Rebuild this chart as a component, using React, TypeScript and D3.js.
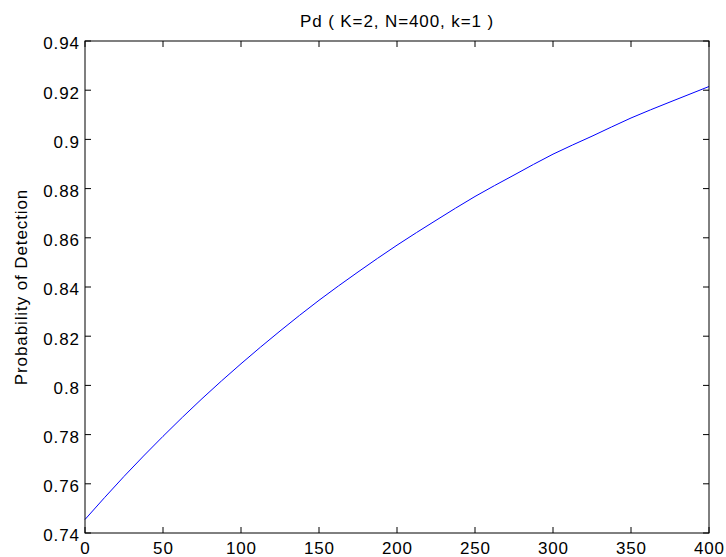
import React from "react";
import * as d3 from "d3";

const xValues = [0, 25, 50, 75, 100, 125, 150, 175, 200, 225, 250, 275, 300, 325, 350, 375, 400];
const pdValues = [0.7455, 0.763, 0.7793, 0.7946, 0.8088, 0.8221, 0.8346, 0.8461, 0.857, 0.8671, 0.8768, 0.8855, 0.894, 0.9013, 0.9087, 0.9152, 0.9215];
const xTicks = [0, 50, 100, 150, 200, 250, 300, 350, 400];
const yTicks = [0.74, 0.76, 0.78, 0.8, 0.82, 0.84, 0.86, 0.88, 0.9, 0.92, 0.94];
const titleText = "Pd ( K=2, N=400, k=1 )";
const yLabelText = "Probability of Detection";

const W = 726;
const H = 557;
const left = 85;
const right = 709;
const top = 41;
const bottom = 533;
const tickLen = 6;
const font = "'Liberation Sans', Arial, Helvetica, sans-serif";
const fs = 17;
const ls = 0.9;

export default function App() {
  const x = d3.scaleLinear().domain([0, 400]).range([left, right]);
  const y = d3.scaleLinear().domain([0.74, 0.94]).range([bottom, top]);
  const pts: [number, number][] = xValues.map((v, i) => [v, pdValues[i]]);
  const line = d3
    .line<[number, number]>()
    .x((d) => x(d[0]))
    .y((d) => y(d[1]))
    .curve(d3.curveMonotoneX);

  const yFmt = (v: number) => String(+v.toFixed(2));

  return (
    <svg
      width={W}
      height={H}
      style={{ position: "absolute", left: 0, top: 0, background: "#fff" }}
      fontFamily={font}
    >
      <rect x={0} y={0} width={W} height={H} fill="#fff" />
      <path d={line(pts) || ""} fill="none" stroke="#0000ff" strokeWidth={1} />
      {xTicks.map((t) => (
        <g key={"xt" + t}>
          <line x1={x(t)} x2={x(t)} y1={bottom} y2={bottom - tickLen} stroke="#000" />
          <line x1={x(t)} x2={x(t)} y1={top} y2={top + tickLen} stroke="#000" />
          <text
            x={x(t) + ls / 2}
            y={553.5}
            textAnchor="middle"
            fontSize={fs}
            letterSpacing={ls}
            fill="#000"
          >
            {t}
          </text>
        </g>
      ))}
      {yTicks.map((t) => (
        <g key={"yt" + t}>
          <line x1={left} x2={left + tickLen} y1={y(t)} y2={y(t)} stroke="#000" />
          <line x1={right} x2={right - tickLen} y1={y(t)} y2={y(t)} stroke="#000" />
          <text
            x={79 + ls}
            y={y(t) + 8.3}
            textAnchor="end"
            fontSize={fs}
            letterSpacing={ls}
            fill="#000"
          >
            {yFmt(t)}
          </text>
        </g>
      ))}
      <rect
        x={left}
        y={top}
        width={right - left}
        height={bottom - top}
        fill="none"
        stroke="#000"
        strokeWidth={1}
      />
      <text
        x={(left + right) / 2}
        y={27}
        textAnchor="middle"
        fontSize={fs}
        letterSpacing={ls}
        fill="#000"
      >
        {titleText}
      </text>
      <text
        transform={`translate(27, ${(top + bottom) / 2}) rotate(-90)`}
        textAnchor="middle"
        fontSize={fs}
        letterSpacing={ls}
        fill="#000"
      >
        {yLabelText}
      </text>
    </svg>
  );
}
